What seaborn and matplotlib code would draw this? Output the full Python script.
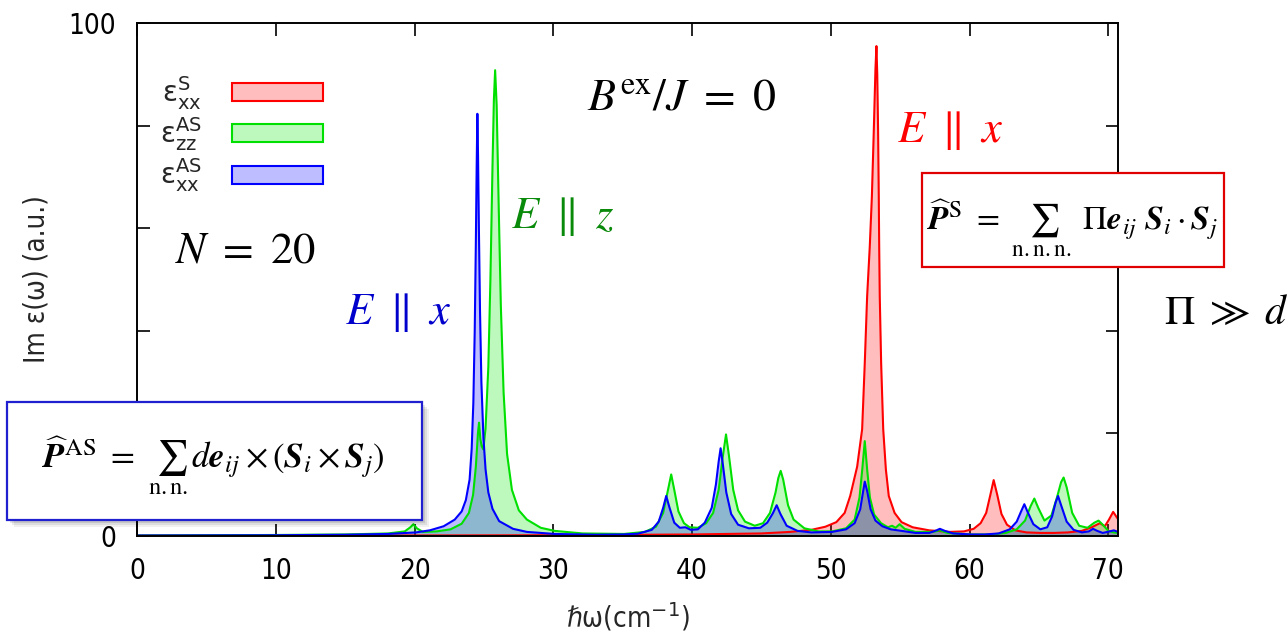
import numpy as np
import pandas as pd
import matplotlib
matplotlib.use("Agg")
import matplotlib.pyplot as plt
import seaborn as sns
from matplotlib.patches import Patch, Rectangle

# ---------------- data ----------------
series_names = ["S_xx", "AS_zz", "AS_xx"]
legend_labels = [r"$\mathrm{ε}^{\mathrm{S}}_{\mathrm{xx}}$",
                 r"$\mathrm{ε}^{\mathrm{AS}}_{\mathrm{zz}}$",
                 r"$\mathrm{ε}^{\mathrm{AS}}_{\mathrm{xx}}$"]

red_w = [0, 20, 30, 40, 45, 47.1, 48.6, 49.6, 50.4, 51.0, 51.4, 51.9, 52.26, 52.45, 52.62, 52.81,
         52.96, 53.1, 53.22, 53.29, 53.35, 53.41, 53.46, 53.49, 53.53, 53.63, 53.78, 53.97, 54.18,
         54.6, 55.1, 55.9, 57.1, 58.6, 59.6, 60.3, 60.8, 61.2, 61.5, 61.74, 62.0, 62.3, 62.7, 63.3,
         64.1, 65.1, 66.1, 67.1, 68.1, 68.8, 69.4, 69.75, 70.05, 70.35, 70.6, 70.7]
red_v = [0.05, 0.1, 0.15, 0.3, 0.5, 0.8, 1.2, 1.8, 2.7, 4.5, 7.8, 13.5, 20.8, 33.7, 46.7, 56.4,
         66, 79, 91, 95.5, 90, 79, 66, 56.4, 46.7, 33.7, 20.8, 13, 7.8,
         4.5, 2.7, 1.7, 1.1, 0.8, 0.9, 1.4, 2.5, 4.5, 8, 10.9, 8, 4.3, 2.2, 1.1,
         0.7, 0.6, 0.6, 0.7, 1.0, 1.7, 2.5, 1.9, 3.2, 4.7, 3.7, 3.3]

green_w = [0, 10, 15, 18.1, 19.3, 19.7, 19.92, 20.17, 20.6, 21.6, 22.6, 23.4, 23.92, 24.22, 24.42,
           24.57, 24.65, 24.74, 24.84, 24.96, 25.12, 25.32, 25.47, 25.62, 25.72, 25.81, 25.92,
           26.07, 26.22, 26.42, 26.67, 27.02, 27.52, 28.1, 29.1, 30.1, 32.1, 35.1, 36.6, 37.4,
           37.92, 38.27, 38.5, 38.72, 39.02, 39.42, 39.82, 40.42, 41.02, 41.52, 41.92, 42.22,
           42.45, 42.67, 42.97, 43.32, 43.82, 44.52, 45.12, 45.62, 46.02, 46.22, 46.39, 46.57,
           46.92, 47.32, 48.1, 49.1, 50.1, 51.1, 51.72, 52.07, 52.27, 52.45, 52.62, 52.82, 53.12,
           53.62, 54.12, 54.42, 54.67, 54.96, 55.32, 56.1, 57.4, 57.86, 58.4, 60.1, 61.6, 62.6,
           63.4, 64.0, 64.4, 64.67, 64.95, 65.4, 65.9, 66.3, 66.6, 66.78, 67.0, 67.4, 67.9, 68.5,
           69.0, 69.3, 69.6, 70.0, 70.4, 70.7]
green_v = [0.1, 0.2, 0.3, 0.5, 0.9, 1.7, 2.3, 1.5, 0.8, 0.9, 1.3, 2.4, 4.5, 8, 13.5,
           20, 22.1, 19, 17.5, 16.9, 21, 33, 50, 72, 85, 90.8, 84,
           64, 45, 28, 16, 9, 5, 3.2, 1.6, 1.0, 0.5, 0.4, 0.8, 1.8,
           4.5, 9, 12.0, 9, 4.8, 2.5, 1.7, 1.6, 2.5, 4.5, 9, 15.5,
           19.8, 15.5, 9, 5, 2.8, 2.0, 2.5, 4.5, 8.5, 11.3, 12.7, 11,
           6, 3.2, 1.5, 0.9, 0.9, 1.5, 3.2, 7.5, 13, 18.5, 13, 7.5, 4.2,
           2.5, 1.7, 2.0, 1.6, 2.3, 1.4, 0.8, 0.8, 1.1, 0.6, 0.3, 0.3, 0.6,
           1.3, 3, 5.8, 7.3, 5.5, 3.0, 4.0, 7.5, 10.5, 11.4, 9.5, 4.5, 2.0, 1.6,
           2.6, 3.0, 2.2, 1.0, 0.7, 0.6]

blue_w = [0, 10, 15, 18.1, 20.1, 21.1, 22.1, 22.9, 23.4, 23.7, 23.97, 24.12, 24.24, 24.34, 24.42,
          24.48, 24.53, 24.58, 24.64, 24.72, 24.82, 24.97, 25.12, 25.32, 25.62, 26.1, 27.1, 28.1,
          30.1, 33, 35, 36.1, 37.1, 37.6, 37.92, 38.14, 38.37, 38.72, 39.12, 39.52, 39.92, 40.42,
          40.92, 41.42, 41.72, 41.92, 42.06, 42.22, 42.47, 42.82, 43.32, 44.1, 44.92, 45.42, 45.82,
          46.1, 46.37, 46.82, 47.6, 48.6, 50.1, 51.1, 51.72, 52.12, 52.32, 52.45, 52.62, 52.87,
          53.22, 53.72, 54.32, 55.1, 56.1, 57.1, 57.62, 57.86, 58.22, 58.82, 60.1, 61.1, 62.1,
          62.9, 63.4, 63.75, 63.95, 64.2, 64.6, 65.1, 65.6, 65.95, 66.2, 66.38, 66.6, 67.0, 67.5,
          68.1, 68.6, 68.9, 69.2, 69.6, 70.1, 70.4, 70.7]
blue_v = [0.1, 0.15, 0.25, 0.4, 0.7, 1.1, 1.9, 3.2, 4.8, 7.0, 11, 17, 26, 40, 57,
          72, 82.3, 74, 60, 44, 30, 19, 13, 8.5, 5.3, 2.9, 1.4, 0.8,
          0.4, 0.25, 0.3, 0.45, 1.2, 2.8, 5.5, 7.8, 5.6, 2.6, 1.6, 1.7, 1.2, 1.3,
          2.6, 5.5, 10, 14.5, 17.1, 14, 8.5, 4.3, 2.2, 1.5, 1.6, 2.6, 4.4,
          6.0, 4.3, 2.0, 1.0, 0.7, 0.8, 1.3, 2.5, 5.2, 8.5, 10.6, 8.8, 5.2,
          3.0, 1.9, 1.3, 1.0, 0.6, 0.6, 1.1, 1.4, 1.0, 0.5, 0.3, 0.3, 0.5,
          1.3, 2.8, 5.0, 6.2, 4.6, 2.3, 1.3, 1.7, 3.8, 6.5, 7.8, 6.0, 2.8, 1.2,
          0.7, 0.9, 1.4, 1.0, 0.6, 0.9, 1.1, 0.8]

x_ticks = [0, 10, 20, 30, 40, 50, 60, 70]
y_ticks = [0, 20, 40, 60, 80, 100]
y_ticklabels = ["0", "", "", "", "", "100"]

# ---------------- styling ----------------
sns.set_theme(style="ticks")
plt.rcParams["font.family"] = ["DejaVu Sans"]
plt.rcParams["mathtext.fontset"] = "dejavusans"

W, H = 1288, 633
fig = plt.figure(figsize=(W / 100, H / 100), dpi=100)
fig.patch.set_facecolor("white")
ax = fig.add_axes([137 / W, 1 - 536 / H, (1118 - 137) / W, (536 - 23) / H])
ax.set_facecolor("white")

line_cols = ["#ff0000", "#00e000", "#0000ff"]
fill_cols = [(1.0, 0.0, 0.0, 0.26), (0.0, 0.9, 0.0, 0.26), (0.0, 0.0, 1.0, 0.26)]

for (w, v), lc, fc in zip([(red_w, red_v), (green_w, green_v), (blue_w, blue_v)], line_cols, fill_cols):
    df = pd.DataFrame({"w": w, "v": v})
    ax.fill_between(df["w"], df["v"], 0, color=fc, lw=0)
    sns.lineplot(data=df, x="w", y="v", color=lc, lw=1.5, ax=ax,
                 estimator=None, sort=False, legend=False)

ax.set_xlim(0, 70.7)
ax.set_ylim(0, 100)
ax.set_xticks(x_ticks)
ax.set_yticks(y_ticks)
ax.set_yticklabels(y_ticklabels)
ax.tick_params(direction="in", length=9, width=1.2, top=True, right=True,
               labelsize=20, pad=15, colors="black")
for lab in ax.get_xticklabels() + ax.get_yticklabels():
    lab.set_fontstretch("condensed")
for s in ax.spines.values():
    s.set_color("black")
    s.set_linewidth(1.4)

ax.set_xlabel("ℏω(cm$^{-1}$)", fontsize=20, labelpad=11, fontstretch="condensed")
ax.set_ylabel("Im ε(ω) (a.u.)", fontsize=20, labelpad=13, fontstretch="condensed")

handles = [Patch(facecolor=fc, edgecolor=lc, lw=1.5) for lc, fc in zip(line_cols, fill_cols)]
leg = ax.legend(handles, legend_labels, loc="upper left",
                bbox_to_anchor=(160 / W, 1 - 74 / H), bbox_transform=fig.transFigure,
                frameon=False, markerfirst=False, fontsize=20, handlelength=3.25,
                handleheight=0.62, handletextpad=1.1, labelspacing=0.12,
                borderpad=0, borderaxespad=0)

# ---------------- annotations ----------------
def fx(px):
    return px / W

def fy(py):
    return 1 - py / H

fig.text(fx(682), fy(97), r"$B^{\mathrm{ex}}/J\ =\ 0$", fontsize=33, math_fontfamily="stix",
         ha="center", va="center", color="black")
fig.text(fx(950), fy(130), r"$E\ \parallel\ x$", fontsize=32, math_fontfamily="stix",
         ha="center", va="center", color="#ff0000")
fig.text(fx(563), fy(217), r"$E\ \parallel\ z$", fontsize=32, math_fontfamily="stix",
         ha="center", va="center", color="#0a8a0a")
fig.text(fx(398), fy(313), r"$E\ \parallel\ x$", fontsize=32, math_fontfamily="stix",
         ha="center", va="center", color="#0000cc")
fig.text(fx(245), fy(250), r"$N\ =\ 20$", fontsize=32, math_fontfamily="stix",
         ha="center", va="center", color="black")
fig.text(fx(1226), fy(312), r"$\Pi\ \gg\ d$", fontsize=30, math_fontfamily="stix",
         ha="center", va="center", color="black")

# red box (symmetric term)
fig.add_artist(Rectangle((fx(922), fy(267)), (1224 - 922) / W, (267 - 173) / H,
                         transform=fig.transFigure, facecolor="white", edgecolor="#e00000",
                         lw=1.6, zorder=2))
fig.text(fx(1073), fy(228), r"$\widehat{\mathbfit{P}}^{\mathrm{S}}\ =\ \sum_{\mathrm{n.n.n.}}\ \mathit{\Pi}\mathbfit{e}_{ij}\ \mathbfit{S}_i\cdot\mathbfit{S}_j$",
         fontsize=24, math_fontfamily="stix", ha="center", va="center", color="black", zorder=3)

# blue box (antisymmetric term) with soft shadow
for k, a in enumerate([0.06, 0.08, 0.10]):
    off = 7 - 2 * k
    fig.add_artist(Rectangle((fx(7 + off), fy(520 + off)), (422 - 7) / W, (520 - 402) / H,
                             transform=fig.transFigure, facecolor=(0, 0, 0, a), edgecolor="none",
                             zorder=2))
fig.add_artist(Rectangle((fx(7), fy(520)), (422 - 7) / W, (520 - 402) / H,
                         transform=fig.transFigure, facecolor="white", edgecolor="#2020d0",
                         lw=1.6, zorder=2))
fig.text(fx(213), fy(466), r"$\widehat{\mathbfit{P}}^{\mathrm{AS}}\ =\ \sum_{\mathrm{n.n.}}d\mathbfit{e}_{ij}\times(\mathbfit{S}_i\times\mathbfit{S}_j)$",
         fontsize=25, math_fontfamily="stix", ha="center", va="center", color="black", zorder=3)

fig.savefig("out.png", dpi=100, facecolor="white")
